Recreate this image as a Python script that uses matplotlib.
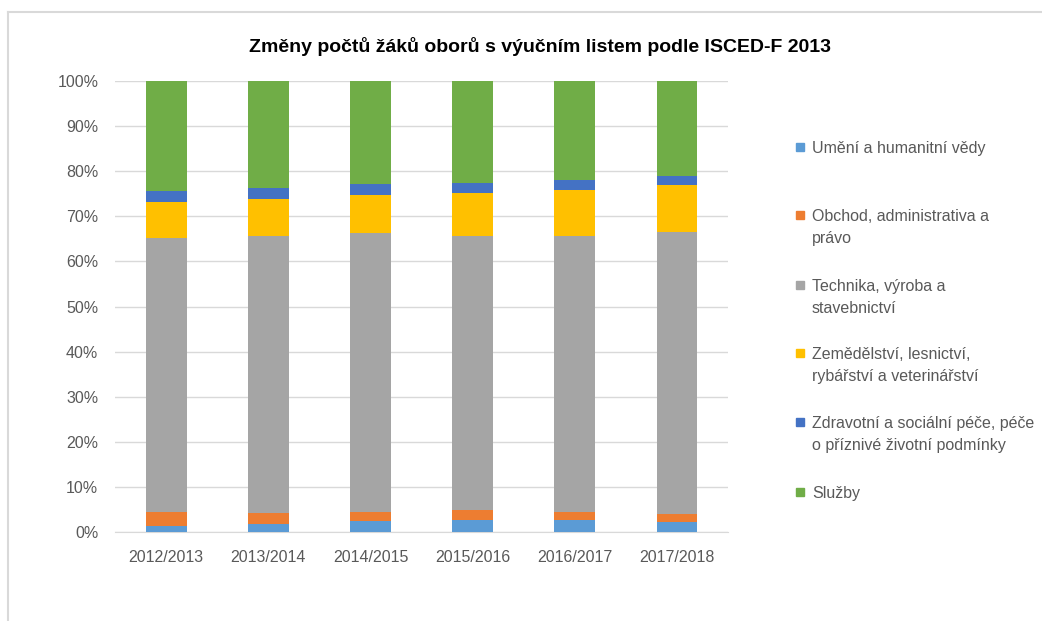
import numpy as np
import matplotlib.pyplot as plt
from matplotlib.patches import Rectangle
from matplotlib.lines import Line2D
from matplotlib.ticker import PercentFormatter

plt.rcParams['font.family'] = ['Liberation Sans', 'DejaVu Sans']

# data (share of pupils, %)
roky = ['2012/2013', '2013/2014', '2014/2015', '2015/2016', '2016/2017', '2017/2018']
umeni = [1.5, 1.8, 2.4, 2.7, 2.7, 2.3]
obchod = [2.9, 2.4, 2.2, 2.2, 1.9, 1.7]
technika = [60.8, 61.5, 61.6, 60.8, 61.1, 62.4]
zemedelstvi = [7.9, 8.1, 8.5, 9.4, 10.1, 10.6]
zdravotni = [2.5, 2.4, 2.4, 2.2, 2.2, 2.0]
sluzby = [24.4, 23.8, 22.9, 22.7, 22.0, 21.0]

nazvy = ['Umění a humanitní vědy',
         'Obchod, administrativa a\nprávo',
         'Technika, výroba a\nstavebnictví',
         'Zemědělství, lesnictví,\nrybářství a veterinářství',
         'Zdravotní a sociální péče, péče\no příznivé životní podmínky',
         'Služby']
barvy = ['#5b9bd5', '#ed7d31', '#a5a5a5', '#ffc000', '#4472c4', '#70ad47']
serie = [umeni, obchod, technika, zemedelstvi, zdravotni, sluzby]

fig = plt.figure(figsize=(10.42, 6.21), dpi=100)
ax = fig.add_axes([0.1104, 0.1428, 0.5883, 0.7272])

x = np.arange(len(roky))
spodek = np.zeros(len(roky))
for hodnoty, barva in zip(serie, barvy):
    h = np.array(hodnoty, dtype=float)
    ax.bar(x, h, bottom=spodek, width=0.4, color=barva, zorder=3)
    spodek += h

ax.set_xlim(-0.5, len(roky) - 0.5)
ax.set_ylim(0, 100)
ax.set_yticks(np.arange(0, 101, 10))
ax.yaxis.set_major_formatter(PercentFormatter(decimals=0))
ax.set_xticks(x)
ax.set_xticklabels(roky)
ax.tick_params(axis='both', length=0, labelsize=11.5, colors='#595959')
ax.tick_params(axis='x', pad=13)
ax.tick_params(axis='y', pad=12)
ax.grid(axis='y', color='#d9d9d9', linewidth=1, zorder=0)
for s in ['top', 'right', 'left']:
    ax.spines[s].set_visible(False)
ax.spines['bottom'].set_color('#d9d9d9')

fig.text(0.518, 0.925, 'Změny počtů žáků oborů s výučním listem podle ISCED-F 2013',
         ha='center', va='center', fontsize=14, fontweight='bold', color='black')

# legend (manual, uniform spacing)
W, H = 1042, 621
y_start = [147, 215, 285, 353, 422, 492]
for nazev, barva, yp in zip(nazvy, barvy, y_start):
    fig.add_artist(Rectangle((796 / W, 1 - (yp + 4) / H), 8 / W, 8 / H,
                             transform=fig.transFigure, color=barva))
    fig.text(812 / W, 1 - (yp - 6) / H, nazev, ha='left', va='top',
             fontsize=11.5, color='#595959', linespacing=1.55)

# chart frame
fig.add_artist(Line2D([8 / W, 8 / W], [0, 1 - 12 / H], transform=fig.transFigure,
                      color='#d9d9d9', linewidth=1.5))
fig.add_artist(Line2D([8 / W, 1], [1 - 12 / H, 1 - 12 / H], transform=fig.transFigure,
                      color='#d9d9d9', linewidth=1.5))

fig.savefig('out.png', dpi=100)
